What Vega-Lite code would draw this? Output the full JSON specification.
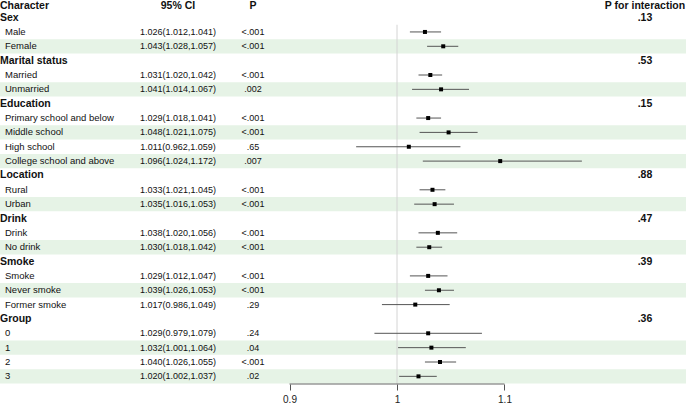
{
  "$schema": "https://vega.github.io/schema/vega-lite/v6.json",
  "padding": 0,
  "spacing": 0,
  "bounds": "flush",
  "config": {
    "view": {"stroke": null},
    "font": "Liberation Sans",
    "text": {"color": "#111111", "baseline": "middle"}
  },
  "data": {
    "values": [
      {"row": 1, "label": "Sex", "kind": "header", "pint": ".13"},
      {"row": 2, "label": "Male", "kind": "item", "est": 1.026, "lo": 1.012, "hi": 1.041, "ci": "1.026(1.012,1.041)", "p": "<.001"},
      {"row": 3, "label": "Female", "kind": "item", "est": 1.043, "lo": 1.028, "hi": 1.057, "ci": "1.043(1.028,1.057)", "p": "<.001"},
      {"row": 4, "label": "Marital status", "kind": "header", "pint": ".53"},
      {"row": 5, "label": "Married", "kind": "item", "est": 1.031, "lo": 1.020, "hi": 1.042, "ci": "1.031(1.020,1.042)", "p": "<.001"},
      {"row": 6, "label": "Unmarried", "kind": "item", "est": 1.041, "lo": 1.014, "hi": 1.067, "ci": "1.041(1.014,1.067)", "p": ".002"},
      {"row": 7, "label": "Education", "kind": "header", "pint": ".15"},
      {"row": 8, "label": "Primary school and below", "kind": "item", "est": 1.029, "lo": 1.018, "hi": 1.041, "ci": "1.029(1.018,1.041)", "p": "<.001"},
      {"row": 9, "label": "Middle school", "kind": "item", "est": 1.048, "lo": 1.021, "hi": 1.075, "ci": "1.048(1.021,1.075)", "p": "<.001"},
      {"row": 10, "label": "High school", "kind": "item", "est": 1.011, "lo": 0.962, "hi": 1.059, "ci": "1.011(0.962,1.059)", "p": ".65"},
      {"row": 11, "label": "College school and above", "kind": "item", "est": 1.096, "lo": 1.024, "hi": 1.172, "ci": "1.096(1.024,1.172)", "p": ".007"},
      {"row": 12, "label": "Location", "kind": "header", "pint": ".88"},
      {"row": 13, "label": "Rural", "kind": "item", "est": 1.033, "lo": 1.021, "hi": 1.045, "ci": "1.033(1.021,1.045)", "p": "<.001"},
      {"row": 14, "label": "Urban", "kind": "item", "est": 1.035, "lo": 1.016, "hi": 1.053, "ci": "1.035(1.016,1.053)", "p": "<.001"},
      {"row": 15, "label": "Drink", "kind": "header", "pint": ".47"},
      {"row": 16, "label": "Drink", "kind": "item", "est": 1.038, "lo": 1.020, "hi": 1.056, "ci": "1.038(1.020,1.056)", "p": "<.001"},
      {"row": 17, "label": "No drink", "kind": "item", "est": 1.030, "lo": 1.018, "hi": 1.042, "ci": "1.030(1.018,1.042)", "p": "<.001"},
      {"row": 18, "label": "Smoke", "kind": "header", "pint": ".39"},
      {"row": 19, "label": "Smoke", "kind": "item", "est": 1.029, "lo": 1.012, "hi": 1.047, "ci": "1.029(1.012,1.047)", "p": "<.001"},
      {"row": 20, "label": "Never smoke", "kind": "item", "est": 1.039, "lo": 1.026, "hi": 1.053, "ci": "1.039(1.026,1.053)", "p": "<.001"},
      {"row": 21, "label": "Former smoke", "kind": "item", "est": 1.017, "lo": 0.986, "hi": 1.049, "ci": "1.017(0.986,1.049)", "p": ".29"},
      {"row": 22, "label": "Group", "kind": "header", "pint": ".36"},
      {"row": 23, "label": "0", "kind": "item", "est": 1.029, "lo": 0.979, "hi": 1.079, "ci": "1.029(0.979,1.079)", "p": ".24"},
      {"row": 24, "label": "1", "kind": "item", "est": 1.032, "lo": 1.001, "hi": 1.064, "ci": "1.032(1.001,1.064)", "p": ".04"},
      {"row": 25, "label": "2", "kind": "item", "est": 1.040, "lo": 1.026, "hi": 1.055, "ci": "1.040(1.026,1.055)", "p": "<.001"},
      {"row": 26, "label": "3", "kind": "item", "est": 1.020, "lo": 1.002, "hi": 1.037, "ci": "1.020(1.002,1.037)", "p": ".02"}
    ]
  },
  "hconcat": [
    {
      "width": 126,
      "height": 384,
      "layer": [
        {
          "transform": [{"filter": {"field": "row", "oneOf": [3, 6, 9, 11, 14, 17, 20, 24, 26]}}],
          "mark": {"type": "bar", "orient": "horizontal", "size": 14.35, "color": "#e6f3e6"},
          "encoding": {
            "y": {"field": "row", "type": "quantitative", "scale": {"domain": [-0.2265, 26.533], "reverse": true, "nice": false, "zero": false, "padding": 0}, "axis": null},
            "x": {"value": 0},
            "x2": {"value": "width"}
          }
        },
        {
          "data": {"values": [{"title": "Character"}]},
          "mark": {"type": "text", "align": "left", "fontWeight": "bold", "fontSize": 10.5},
          "encoding": {"x": {"value": 0}, "y": {"datum": 0.17}, "text": {"field": "title"}}
        },
        {
          "transform": [{"filter": "datum.kind == 'header'"}],
          "mark": {"type": "text", "align": "left", "fontWeight": "bold", "fontSize": 10.5},
          "encoding": {"x": {"value": 0}, "y": {"field": "row", "type": "quantitative"}, "text": {"field": "label"}}
        },
        {
          "transform": [{"filter": "datum.kind == 'item'"}],
          "mark": {"type": "text", "align": "left", "fontSize": 9.5},
          "encoding": {"x": {"value": 5}, "y": {"field": "row", "type": "quantitative"}, "text": {"field": "label"}}
        }
      ]
    },
    {
      "width": 104,
      "height": 384,
      "layer": [
        {
          "transform": [{"filter": {"field": "row", "oneOf": [3, 6, 9, 11, 14, 17, 20, 24, 26]}}],
          "mark": {"type": "bar", "orient": "horizontal", "size": 14.35, "color": "#e6f3e6"},
          "encoding": {
            "y": {"field": "row", "type": "quantitative", "scale": {"domain": [-0.2265, 26.533], "reverse": true, "nice": false, "zero": false, "padding": 0}, "axis": null},
            "x": {"value": 0},
            "x2": {"value": "width"}
          }
        },
        {
          "data": {"values": [{"title": "95% CI"}]},
          "mark": {"type": "text", "align": "center", "fontWeight": "bold", "fontSize": 10.5},
          "encoding": {"y": {"datum": 0.17}, "text": {"field": "title"}}
        },
        {
          "transform": [{"filter": "datum.kind == 'item'"}],
          "mark": {"type": "text", "align": "center", "fontSize": 9},
          "encoding": {"y": {"field": "row", "type": "quantitative"}, "text": {"field": "ci"}}
        }
      ]
    },
    {
      "width": 46,
      "height": 384,
      "layer": [
        {
          "transform": [{"filter": {"field": "row", "oneOf": [3, 6, 9, 11, 14, 17, 20, 24, 26]}}],
          "mark": {"type": "bar", "orient": "horizontal", "size": 14.35, "color": "#e6f3e6"},
          "encoding": {
            "y": {"field": "row", "type": "quantitative", "scale": {"domain": [-0.2265, 26.533], "reverse": true, "nice": false, "zero": false, "padding": 0}, "axis": null},
            "x": {"value": 0},
            "x2": {"value": "width"}
          }
        },
        {
          "data": {"values": [{"title": "P"}]},
          "mark": {"type": "text", "align": "center", "fontWeight": "bold", "fontSize": 10.5},
          "encoding": {"y": {"datum": 0.17}, "text": {"field": "title"}}
        },
        {
          "transform": [{"filter": "datum.kind == 'item'"}],
          "mark": {"type": "text", "align": "center", "fontSize": 9},
          "encoding": {"y": {"field": "row", "type": "quantitative"}, "text": {"field": "p"}}
        }
      ]
    },
    {
      "width": 328,
      "height": 384,
      "layer": [
        {
          "transform": [{"filter": {"field": "row", "oneOf": [3, 6, 9, 11, 14, 17, 20, 24, 26]}}],
          "mark": {"type": "bar", "orient": "horizontal", "size": 14.35, "color": "#e6f3e6"},
          "encoding": {
            "y": {"field": "row", "type": "quantitative", "scale": {"domain": [-0.2265, 26.533], "reverse": true, "nice": false, "zero": false, "padding": 0}, "axis": null},
            "x": {"value": 0},
            "x2": {"value": "width"}
          }
        },
        {
          "data": {"values": [{"ref": 1}]},
          "mark": {"type": "rule", "color": "#d4d4d4", "strokeWidth": 1},
          "encoding": {
            "x": {"field": "ref", "type": "quantitative", "scale": {"domain": [0.88744, 1.19256], "nice": false, "zero": false, "padding": 0},
                  "axis": {"values": [0.9, 1, 1.1], "format": "~g", "domain": false, "grid": false, "title": null, "ticks": true, "tickColor": "#555555", "tickSize": 6, "tickWidth": 1, "labelFontSize": 10, "labelColor": "#222222", "labelPadding": 4}},
            "y": {"datum": 1.5},
            "y2": {"datum": 26.533}
          }
        },
        {
          "data": {"values": [{"from": 0.9, "to": 1.1}]},
          "mark": {"type": "rule", "color": "#666666", "strokeWidth": 1},
          "encoding": {
            "x": {"field": "from", "type": "quantitative"},
            "x2": {"field": "to"},
            "y": {"datum": 26.533}
          }
        },
        {
          "transform": [{"filter": "datum.kind == 'item'"}],
          "mark": {"type": "rule", "color": "#555555", "strokeWidth": 1},
          "encoding": {
            "x": {"field": "lo", "type": "quantitative"},
            "x2": {"field": "hi"},
            "y": {"field": "row", "type": "quantitative"}
          }
        },
        {
          "transform": [{"filter": "datum.kind == 'item'"}],
          "mark": {"type": "square", "filled": true, "color": "#000000", "size": 16, "opacity": 1},
          "encoding": {
            "x": {"field": "est", "type": "quantitative"},
            "y": {"field": "row", "type": "quantitative"}
          }
        }
      ]
    },
    {
      "width": 82,
      "height": 384,
      "layer": [
        {
          "transform": [{"filter": {"field": "row", "oneOf": [3, 6, 9, 11, 14, 17, 20, 24, 26]}}],
          "mark": {"type": "bar", "orient": "horizontal", "size": 14.35, "color": "#e6f3e6"},
          "encoding": {
            "y": {"field": "row", "type": "quantitative", "scale": {"domain": [-0.2265, 26.533], "reverse": true, "nice": false, "zero": false, "padding": 0}, "axis": null},
            "x": {"value": 0},
            "x2": {"value": "width"}
          }
        },
        {
          "data": {"values": [{"title": "P for interaction"}]},
          "mark": {"type": "text", "align": "center", "fontWeight": "bold", "fontSize": 10.5},
          "encoding": {"y": {"datum": 0.17}, "text": {"field": "title"}}
        },
        {
          "transform": [{"filter": "datum.kind == 'header'"}],
          "mark": {"type": "text", "align": "center", "fontWeight": "bold", "fontSize": 10.5},
          "encoding": {"y": {"field": "row", "type": "quantitative"}, "text": {"field": "pint"}}
        }
      ]
    }
  ]
}
